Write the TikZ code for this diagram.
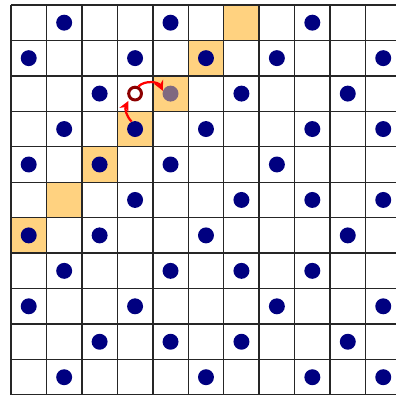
\documentclass[tikz,border=0pt]{standalone}
\usetikzlibrary{arrows.meta}
\definecolor{dotblue}{RGB}{0,0,128}
\definecolor{hilite}{RGB}{255,210,128}
\definecolor{ringred}{RGB}{140,0,0}
\tikzset{
  gridline/.style={line width=1.15pt, black!85},
  hicell/.style={fill=hilite},
  dotnode/.style={circle, fill=dotblue, inner sep=0pt, minimum size=0.45cm},
  ghostdot/.style={circle, fill=dotblue, fill opacity=0.5, inner sep=0pt, minimum size=0.45cm},
  ringnode/.style={circle, draw=ringred, fill=white, line width=2.4pt, inner sep=0pt, minimum size=0.36cm},
  movearrow/.style={red, line width=1.8pt, -{Stealth[length=8pt,width=8pt]}}
}
\begin{document}
\begin{tikzpicture}
\useasboundingbox (-0.31,0) rectangle (10.86,11.14);
\clip (-0.31,0) rectangle (10.86,11.14);
% highlighted cells (row r, column c) -> lower-left corner (c, 10-r)
\foreach \r/\c in {0/6,1/5,2/4,3/3,4/2,5/1,6/0}
  \fill[hicell] (\c,10-\r) rectangle ++(1,1);
\draw[gridline] (0,0) grid (11,11);
% dots
\foreach \r/\cols in {0/{1,4,8},1/{0,3,5,7,10},2/{2,6,9},3/{1,3,5,8,10},4/{0,2,4,7},5/{3,6,8,10},6/{0,2,5,9},7/{1,4,6,8},8/{0,3,7,10},9/{2,4,6,9},10/{1,5,8,10}}
  \foreach \c in \cols
    \node[dotnode] (d\r-\c) at (\c+0.5,10.5-\r) {};
\node[ghostdot] (ghost) at (4.5,8.5) {};
\node[ringnode] (ring) at (3.5,8.5) {};
\draw[movearrow] (d3-3.115) to[bend left=35] ([xshift=-1pt,yshift=-1.5pt]ring.south west);
\draw[movearrow] (ring.65) to[bend left=55] (ghost.160);
\end{tikzpicture}
\end{document}
